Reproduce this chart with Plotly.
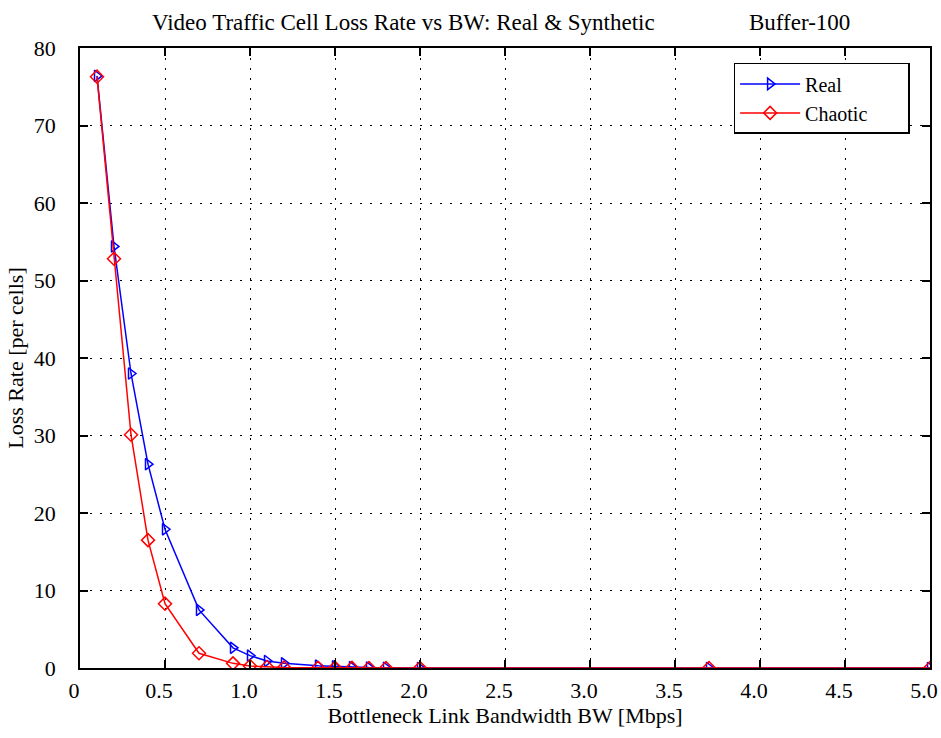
import plotly.graph_objects as go

bw = [0.1, 0.2, 0.3, 0.4, 0.5, 0.7, 0.9, 1.0, 1.1, 1.2, 1.4, 1.5, 1.6, 1.7, 1.8, 2.0, 3.7, 5.0]
real = [76.4, 54.4, 38.0, 26.3, 17.9, 7.5, 2.6, 1.6, 0.9, 0.6, 0.3, 0.2, 0.1, 0.05, 0.02, 0.0, 0.0, 0.0]
chaotic = [76.3, 52.8, 30.1, 16.5, 8.3, 1.9, 0.6, 0.25, 0.12, 0.06, 0.03, 0.02, 0.01, 0.0, 0.0, 0.0, 0.0, 0.0]

xticks = [0, 0.5, 1.0, 1.5, 2.0, 2.5, 3.0, 3.5, 4.0, 4.5, 5.0]
xticklabels = ["0", "0.5", "1.0", "1.5", "2.0", "2.5", "3.0", "3.5", "4.0", "4.5", "5.0"]
yticks = [0, 10, 20, 30, 40, 50, 60, 70, 80]

FONT = "Liberation Serif"

fig = go.Figure()
fig.add_trace(go.Scatter(
    x=bw, y=real, name="Real", mode="lines+markers",
    line=dict(color="#0000ff", width=1.5),
    marker=dict(symbol="triangle-right-open", size=10, color="#0000ff", line=dict(width=1.5)),
))
fig.add_trace(go.Scatter(
    x=bw, y=chaotic, name="Chaotic" + "&nbsp;" * 7, mode="lines+markers",
    line=dict(color="#ff0000", width=1.5),
    marker=dict(symbol="diamond-open", size=10, color="#ff0000", line=dict(width=1.5)),
))

axis_common = dict(
    showline=True, linecolor="black", linewidth=1.5, mirror="allticks",
    ticks="inside", ticklen=8, tickcolor="black", tickwidth=1.5,
    showgrid=True, gridcolor="black", gridwidth=1.2, griddash="2px,8px",
    zeroline=False, automargin=False,
    tickfont=dict(family=FONT, size=22, color="black"),
)

fig.update_xaxes(range=[0, 5.0], tickvals=xticks, ticktext=xticklabels,
                 ticklabelstandoff=2, ticklabelshift=-6,
                 title=dict(text="Bottleneck Link Bandwidth BW [Mbps]",
                            font=dict(family=FONT, size=22, color="black"), standoff=4),
                 **axis_common)
fig.update_yaxes(range=[0, 80], tickvals=yticks, ticklabelstandoff=18,
                 title=dict(text="Loss Rate [per cells]",
                            font=dict(family=FONT, size=22, color="black"), standoff=4),
                 **axis_common)

fig.add_annotation(text="Video Traffic Cell Loss Rate vs BW: Real &amp; Synthetic",
                   xref="paper", yref="paper", x=0.381, y=1.0, yshift=26,
                   xanchor="center", yanchor="middle",
                   showarrow=False, font=dict(family=FONT, size=23, color="black"))
fig.add_annotation(text="Buffer-100",
                   xref="paper", yref="paper", x=0.847, y=1.0, yshift=26,
                   xanchor="center", yanchor="middle",
                   showarrow=False, font=dict(family=FONT, size=23, color="black"))

fig.update_layout(
    width=941, height=738,
    margin=dict(l=80, r=11, t=48, b=70),
    paper_bgcolor="white", plot_bgcolor="white",
    showlegend=True,
    legend=dict(x=0.976, y=0.976, xanchor="right", yanchor="top",
                bordercolor="black", borderwidth=1.5, bgcolor="white",
                font=dict(family=FONT, size=20, color="black"),
                itemwidth=60),
)

fig.write_html("out.html")
